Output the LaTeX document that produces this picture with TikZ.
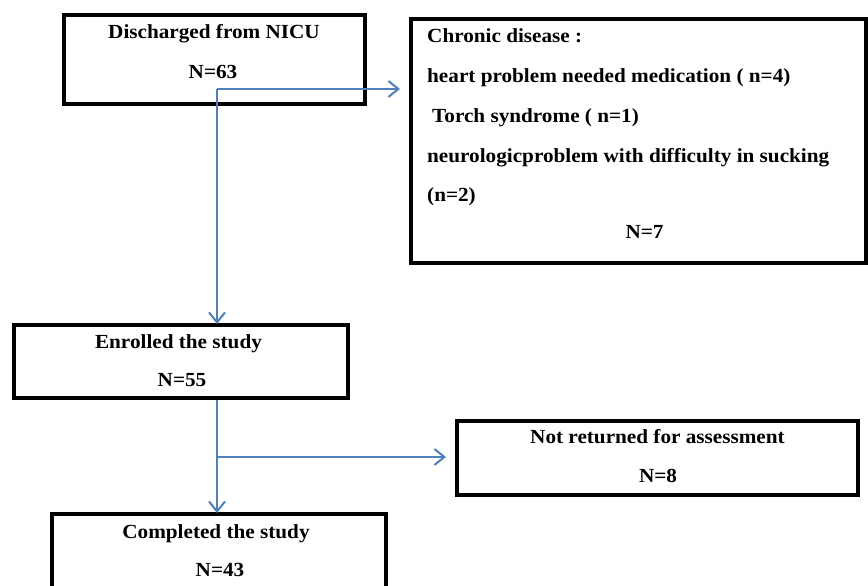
\documentclass[tikz,border=0pt]{standalone}
\usepackage{fontspec}
\setmainfont[FakeStretch=1.06]{Liberation Serif}
\usetikzlibrary{arrows.meta}
\definecolor{arrowblue}{RGB}{79,129,189}
\tikzset{
  boxline/.style={draw=black, line width=3.8pt},
  txt/.style={font=\fontsize{20}{24}\selectfont\bfseries, inner sep=0pt, anchor=base},
  txtl/.style={txt, anchor=base west},
  flow/.style={draw=arrowblue, line width=2pt, -{Straight Barb[length=10pt,width=16pt,line width=2pt]}},
}
\begin{document}
\begin{tikzpicture}[x=1pt,y=-1pt]
\useasboundingbox (0,0) rectangle (868,586);
% boxes
\draw[boxline] (64,15) rectangle (365,104);
\draw[boxline] (411,19) rectangle (866,263);
\coordinate (b2w) at (409,89);
\draw[boxline] (14,325) rectangle (348,398);
\coordinate (b3n) at (217,323);
\coordinate (b3s) at (217,400);
\draw[boxline] (457,421) rectangle (858,495);
\coordinate (b4w) at (455,457);
\draw[boxline] (52,514) rectangle (386,600);
\coordinate (b5n) at (217,512);
% texts
\node[txt] (t1a) at (214,39) {Discharged from NICU};
\node[txt] (t1b) at (213,78) {N=63};
\node[txtl] (t2a) at (427,43) {Chronic disease :};
\node[txtl] (t2b) at (427,83) {heart problem needed medication ( n=4)};
\node[txtl] (t2c) at (432,122) {Torch syndrome ( n=1)};
\node[txtl] (t2d) at (427,162) {neurologicproblem with difficulty in sucking};
\node[txtl] (t2e) at (427,201) {(n=2)};
\node[txt] (t2f) at (644.5,238) {N=7};
\node[txt] (t3a) at (178.5,348) {Enrolled the study};
\node[txt] (t3b) at (182,386) {N=55};
\node[txt] (t4a) at (657.5,443) {Not returned for assessment};
\node[txt] (t4b) at (658,482) {N=8};
\node[txt] (t5a) at (216,538) {Completed the study};
\node[txt] (t5b) at (220,576) {N=43};
% connectors
\coordinate (j1) at (217,89);
\coordinate (j2) at (217,457);
\draw[flow] (j1) -- ([xshift=-9pt]b2w);
\draw[flow] (j1) -- ([yshift=-1pt]b3n);
\draw[flow] (b3s) -- ([yshift=-1pt]b5n);
\draw[flow] (j2) -- ([xshift=-9pt]b4w);
\end{tikzpicture}
\end{document}
